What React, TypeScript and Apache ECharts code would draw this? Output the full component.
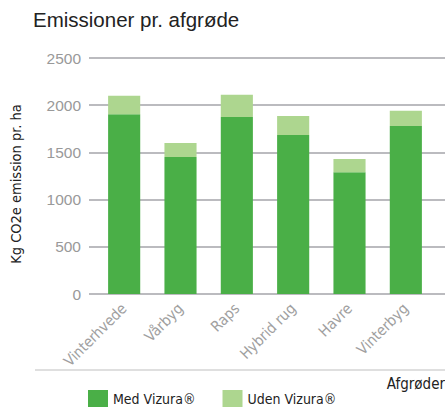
import React, { useEffect, useRef } from "react";
import * as echarts from "echarts";

const categories = ["Vinterhvede", "Vårbyg", "Raps", "Hybrid rug", "Havre", "Vinterbyg"];
const medVizura = [1905, 1450, 1875, 1685, 1290, 1780];
const udenVizuraExtra = [195, 150, 235, 200, 140, 160];
const yTicks = { min: 0, max: 2500, interval: 500 };

const NARROW = "'DejaVu Sans Condensed', 'Liberation Sans Narrow', 'Liberation Sans', Arial, sans-serif";
const SANS = "'Liberation Sans', Arial, sans-serif";

export default function App() {
  const ref = useRef<HTMLDivElement>(null);
  useEffect(() => {
    if (!ref.current) return;
    const chart = echarts.init(ref.current, undefined, { renderer: "svg" });
    chart.setOption({
      animation: false,
      title: {
        text: "Emissioner pr. afgrøde",
        left: 33,
        top: 9,
        padding: 0,
        textStyle: { fontFamily: SANS, fontSize: 20.5, fontWeight: "normal", color: "#222" },
      },
      legend: {
        left: 88,
        top: 390,
        padding: 0,
        itemWidth: 20,
        itemHeight: 17,
        itemGap: 27,
        icon: "rect",
        textStyle: { fontFamily: NARROW, fontSize: 14, color: "#222" },
        data: ["Med Vizura®", "Uden Vizura®"],
      },
      grid: [
        { left: 85, right: 0, top: 58, height: 236 },
        { left: 96, right: 11, top: 58, height: 236 },
      ],
      xAxis: [
        { gridIndex: 0, type: "value", show: false, min: 0, max: 1 },
        {
          gridIndex: 1,
          type: "category",
          data: categories,
          axisLine: { show: false },
          axisTick: { show: false },
          axisLabel: {
            rotate: 45,
            margin: 12,
            fontFamily: NARROW,
            fontSize: 15,
            color: "#a0a0a0",
          },
        },
      ],
      yAxis: [
        {
          gridIndex: 0,
          type: "value",
          ...yTicks,
          name: "Kg CO2e emission pr. ha",
          nameLocation: "middle",
          nameGap: 66,
          nameTextStyle: { fontFamily: NARROW, fontSize: 14.5, color: "#222", padding: [0, 16, 0, 0] },
          axisLine: { show: false },
          axisTick: { show: false },
          axisLabel: {
            margin: 8,
            fontFamily: SANS,
            fontSize: 15.5,
            color: "#999",
            formatter: (v: number) => String(v),
          },
          splitLine: { lineStyle: { color: "#bbbbbf", width: 2 } },
        },
        {
          gridIndex: 1,
          type: "value",
          ...yTicks,
          show: false,
          splitLine: { show: false },
        },
      ],
      series: [
        {
          name: "Med Vizura®",
          type: "bar",
          stack: "total",
          xAxisIndex: 1,
          yAxisIndex: 1,
          barWidth: "57%",
          itemStyle: { color: "#4aaf47" },
          data: medVizura,
        },
        {
          name: "Uden Vizura®",
          type: "bar",
          stack: "total",
          xAxisIndex: 1,
          yAxisIndex: 1,
          barWidth: "57%",
          itemStyle: { color: "#add68f" },
          data: udenVizuraExtra,
        },
      ],
      graphic: [
        {
          type: "line",
          shape: { x1: 36, y1: 38, x2: 36, y2: 370 },
          style: {
            lineWidth: 2,
            stroke: new echarts.graphic.LinearGradient(0, 0, 0, 1, [
              { offset: 0, color: "#999" },
              { offset: 1, color: "#e2e2e2" },
            ]),
          },
          z: 0,
        },
        {
          type: "line",
          shape: { x1: 35, y1: 370, x2: 445, y2: 370 },
          style: { lineWidth: 2, stroke: "#dfdfdf" },
          z: 0,
        },
        {
          type: "text",
          right: 0,
          top: 376,
          style: { text: "Afgrøder", fontFamily: NARROW, fontSize: 15, fill: "#222" },
        },
      ],
    });
    return () => chart.dispose();
  }, []);
  return <div ref={ref} style={{ width: 445, height: 407, position: "absolute", left: 0, top: 0 }} />;
}
